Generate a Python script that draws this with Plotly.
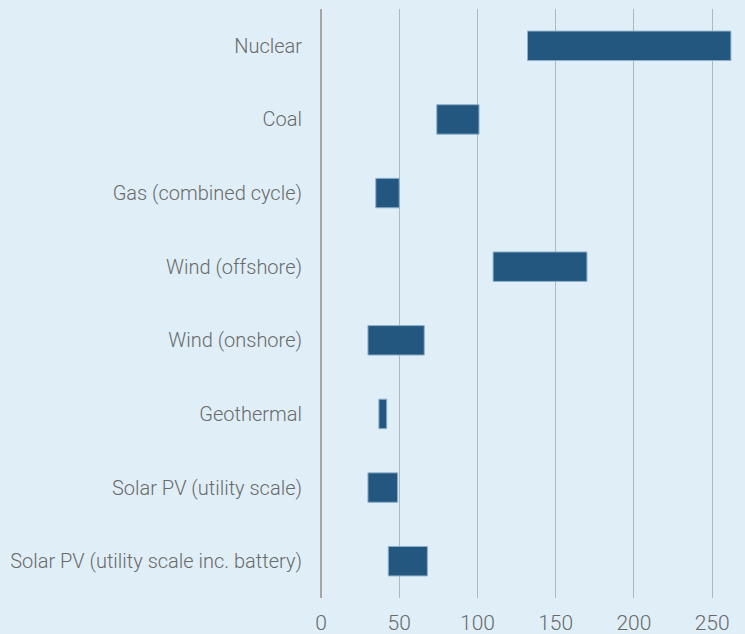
import plotly.graph_objects as go

categories = [
    "Nuclear",
    "Coal",
    "Gas (combined cycle)",
    "Wind (offshore)",
    "Wind (onshore)",
    "Geothermal",
    "Solar PV (utility scale)",
    "Solar PV (utility scale inc. battery)",
]
low_values = [132, 74, 35, 110, 30, 37, 30, 43]
high_values = [262, 101, 50, 170, 66, 42, 49, 68]
x_tick_values = [0, 50, 100, 150, 200, 250]
x_tick_labels = ["0", "50", "100", "150", "200", "250"]

bg = "#dfeef7"
text_color = "#6a6a6a"

fig = go.Figure(
    go.Bar(
        y=categories,
        x=[h - l for h, l in zip(high_values, low_values)],
        base=low_values,
        orientation="h",
        width=0.4,
        marker=dict(color="#245780", line=dict(color="#8fb0cc", width=1)),
        hoverinfo="skip",
    )
)

fig.update_layout(
    width=745,
    height=634,
    paper_bgcolor=bg,
    plot_bgcolor=bg,
    margin=dict(l=321, r=0, t=9, b=36),
    showlegend=False,
    font=dict(family="Roboto", size=20, color=text_color, weight=300),
    bargap=0.6,
)
fig.update_xaxes(
    range=[0, 271],
    tickvals=x_tick_values,
    ticktext=x_tick_labels,
    showgrid=True,
    gridcolor="#b3b7ba",
    gridwidth=1,
    zeroline=True,
    zerolinecolor="#a5a5a5",
    zerolinewidth=2,
    showline=False,
    ticks="",
    ticklabelstandoff=10,
    tickfont=dict(size=21, color=text_color),
    automargin=False,
    fixedrange=True,
)
fig.update_yaxes(
    categoryorder="array",
    categoryarray=categories[::-1],
    autorange=True,
    showgrid=False,
    zeroline=False,
    showline=False,
    ticks="",
    ticklabelstandoff=18,
    tickfont=dict(size=20, color=text_color),
    automargin=False,
    fixedrange=True,
)

fig.write_html(
    "out.html",
    config={"displayModeBar": False},
    post_script="document.body.style.margin='0';document.body.style.background='#dfeef7';",
)
